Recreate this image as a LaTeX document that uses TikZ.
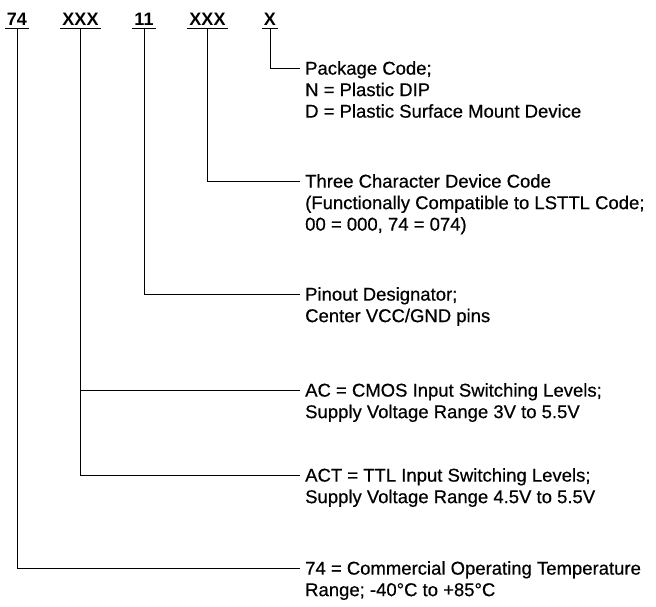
\documentclass[tikz,border=0pt]{standalone}
\usepackage{fontspec}
\setmainfont{Liberation Sans}
\newfontfamily\descfont[FakeBold=0.5]{Liberation Sans}
\tikzset{
  code/.style={font=\fontsize{18}{20}\selectfont\bfseries,
               inner xsep=2pt, inner ysep=3pt, anchor=base},
  desc/.style={font=\descfont\fontsize{18.5}{21.5}\selectfont, align=left,
               inner sep=0pt, anchor=north west},
  lead/.style={line width=0.9pt},
  uline/.style={line width=1pt},
}

\begin{document}
\begin{tikzpicture}[x=1pt, y=-1pt]
  \useasboundingbox (0,0) rectangle (656,606);
  % fields of the part number
  \foreach \n/\x/\t in {c74/17/74, cxa/80.5/XXX, c11/144/11, cxb/207.5/XXX, cx/270/X} {
    \node[code] (\n) at (\x,25) {\t};
    \draw[uline] (\n.south west) -- (\n.south east);
  }
  % ends of the leader lines
  \coordinate (tx)   at (300,68);
  \coordinate (txb)  at (300,181);
  \coordinate (t11)  at (300,294);
  \coordinate (tac)  at (300,390);
  \coordinate (tact) at (300,475);
  \coordinate (t74)  at (300,568);
  % explanations
  \node[desc] (dx) at (305,61)
    {Package Code;\\N = Plastic DIP\\D = Plastic Surface Mount Device};
  \node[desc] (dxb) at (305,174)
    {Three Character Device Code\\(Functionally Compatible to LSTTL Code;\\00 = 000, 74 = 074)};
  \node[desc] (d11) at (305,287)
    {Pinout Designator;\\Center VCC/GND pins};
  \node[desc] (dac) at (305,383)
    {AC = CMOS Input Switching Levels;\\Supply Voltage Range 3V to 5.5V};
  \node[desc] (dact) at (305,468)
    {ACT = TTL Input Switching Levels;\\Supply Voltage Range 4.5V to 5.5V};
  \node[desc] (d74) at (305,561)
    {74 = Commercial Operating Temperature\\Range; -40°C to +85°C};
  % leaders
  \draw[lead] (cx.south) |- (tx);
  \draw[lead] (cxb.south) |- (txb);
  \draw[lead] (c11.south) |- (t11);
  \draw[lead] (cxa.south) |- (tact);
  \draw[lead] (cxa.south |- tac) -- (tac);
  \draw[lead] (c74.south) |- (t74);
\end{tikzpicture}
\end{document}
